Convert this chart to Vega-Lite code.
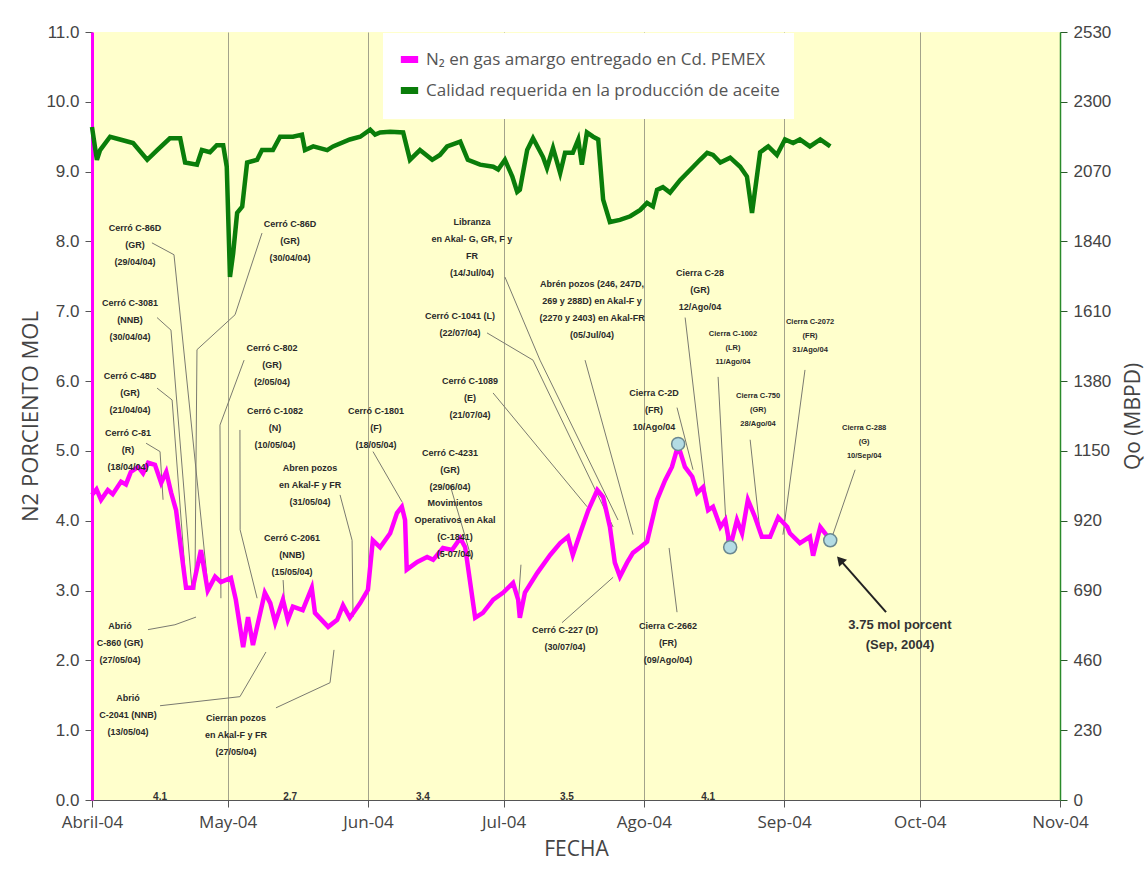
{
  "$schema": "https://vega.github.io/schema/vega-lite/v6.json",
  "width": 968,
  "height": 768,
  "autosize": {"type": "none"},
  "padding": {"left": 92, "top": 32, "right": 86, "bottom": 77},
  "background": "white",
  "config": {
    "view": {"fill": "#ffffcc", "stroke": null},
    "font": "Liberation Sans",
    "axis": {"gridColor": "#8c8c78", "gridWidth": 0.8, "gridOpacity": 1}
  },
  "datasets": {
    "n2": [
      {"f": "2004-04-01T00:00", "v": 4.37}, {"f": "2004-04-02T00:00", "v": 4.45}, {"f": "2004-04-03T00:00", "v": 4.30},
      {"f": "2004-04-04T12:00", "v": 4.44}, {"f": "2004-04-05T14:00", "v": 4.38}, {"f": "2004-04-07T10:00", "v": 4.56},
      {"f": "2004-04-08T12:00", "v": 4.52}, {"f": "2004-04-09T14:00", "v": 4.70}, {"f": "2004-04-11T05:00", "v": 4.77},
      {"f": "2004-04-12T07:00", "v": 4.68}, {"f": "2004-04-13T10:00", "v": 4.83}, {"f": "2004-04-14T22:00", "v": 4.80},
      {"f": "2004-04-16T07:00", "v": 4.54}, {"f": "2004-04-17T10:00", "v": 4.70}, {"f": "2004-04-18T12:00", "v": 4.40},
      {"f": "2004-04-19T14:00", "v": 4.15}, {"f": "2004-04-20T17:00", "v": 3.58}, {"f": "2004-04-21T19:00", "v": 3.04},
      {"f": "2004-04-23T07:00", "v": 3.04}, {"f": "2004-04-25T02:00", "v": 3.58}, {"f": "2004-04-26T14:00", "v": 3.00},
      {"f": "2004-04-28T05:00", "v": 3.20}, {"f": "2004-04-29T12:00", "v": 3.12}, {"f": "2004-05-01T17:00", "v": 3.18},
      {"f": "2004-05-02T19:00", "v": 2.87}, {"f": "2004-05-04T10:00", "v": 2.19}, {"f": "2004-05-05T12:00", "v": 2.62},
      {"f": "2004-05-06T14:00", "v": 2.22}, {"f": "2004-05-09T05:00", "v": 2.97}, {"f": "2004-05-10T10:00", "v": 2.82},
      {"f": "2004-05-11T12:00", "v": 2.54}, {"f": "2004-05-13T05:00", "v": 2.87}, {"f": "2004-05-14T07:00", "v": 2.58},
      {"f": "2004-05-15T10:00", "v": 2.77}, {"f": "2004-05-17T14:00", "v": 2.72}, {"f": "2004-05-19T14:00", "v": 3.04},
      {"f": "2004-05-20T07:00", "v": 2.68}, {"f": "2004-05-23T05:00", "v": 2.48}, {"f": "2004-05-25T05:00", "v": 2.58},
      {"f": "2004-05-26T12:00", "v": 2.79}, {"f": "2004-05-28T00:00", "v": 2.61}, {"f": "2004-05-30T07:00", "v": 2.82},
      {"f": "2004-06-01T00:00", "v": 3.01}, {"f": "2004-06-02T02:00", "v": 3.72}, {"f": "2004-06-03T17:00", "v": 3.62},
      {"f": "2004-06-05T22:00", "v": 3.82}, {"f": "2004-06-07T10:00", "v": 4.11}, {"f": "2004-06-08T12:00", "v": 4.20},
      {"f": "2004-06-09T05:00", "v": 4.01}, {"f": "2004-06-09T14:00", "v": 3.30}, {"f": "2004-06-11T22:00", "v": 3.41},
      {"f": "2004-06-14T02:00", "v": 3.48}, {"f": "2004-06-15T10:00", "v": 3.44}, {"f": "2004-06-17T14:00", "v": 3.61},
      {"f": "2004-06-19T14:00", "v": 3.58}, {"f": "2004-06-21T10:00", "v": 3.75}, {"f": "2004-06-22T12:00", "v": 3.62},
      {"f": "2004-06-24T17:00", "v": 2.61}, {"f": "2004-06-26T10:00", "v": 2.68}, {"f": "2004-06-28T17:00", "v": 2.87},
      {"f": "2004-06-30T22:00", "v": 2.97}, {"f": "2004-07-03T02:00", "v": 3.11}, {"f": "2004-07-04T05:00", "v": 2.87},
      {"f": "2004-07-04T14:00", "v": 2.61}, {"f": "2004-07-05T17:00", "v": 2.97}, {"f": "2004-07-08T10:00", "v": 3.25},
      {"f": "2004-07-11T07:00", "v": 3.51}, {"f": "2004-07-13T12:00", "v": 3.68}, {"f": "2004-07-15T05:00", "v": 3.77},
      {"f": "2004-07-16T07:00", "v": 3.51}, {"f": "2004-07-17T22:00", "v": 3.82}, {"f": "2004-07-19T17:00", "v": 4.15},
      {"f": "2004-07-21T17:00", "v": 4.44}, {"f": "2004-07-23T00:00", "v": 4.34}, {"f": "2004-07-24T12:00", "v": 3.91},
      {"f": "2004-07-25T14:00", "v": 3.40}, {"f": "2004-07-26T17:00", "v": 3.20}, {"f": "2004-07-28T07:00", "v": 3.40},
      {"f": "2004-07-29T14:00", "v": 3.54}, {"f": "2004-07-31T05:00", "v": 3.62}, {"f": "2004-08-01T17:00", "v": 3.70},
      {"f": "2004-08-03T22:00", "v": 4.30}, {"f": "2004-08-05T17:00", "v": 4.58}, {"f": "2004-08-07T05:00", "v": 4.77},
      {"f": "2004-08-08T14:00", "v": 5.08}, {"f": "2004-08-10T02:00", "v": 4.77}, {"f": "2004-08-11T17:00", "v": 4.63},
      {"f": "2004-08-12T19:00", "v": 4.40}, {"f": "2004-08-14T02:00", "v": 4.48}, {"f": "2004-08-15T05:00", "v": 4.15},
      {"f": "2004-08-16T07:00", "v": 4.20}, {"f": "2004-08-17T22:00", "v": 3.91}, {"f": "2004-08-19T00:00", "v": 4.01},
      {"f": "2004-08-20T02:00", "v": 3.62}, {"f": "2004-08-21T14:00", "v": 4.01}, {"f": "2004-08-22T17:00", "v": 3.82},
      {"f": "2004-08-24T00:00", "v": 4.30}, {"f": "2004-08-25T14:00", "v": 4.05}, {"f": "2004-08-27T02:00", "v": 3.77},
      {"f": "2004-08-28T22:00", "v": 3.77}, {"f": "2004-08-30T17:00", "v": 4.05}, {"f": "2004-09-01T17:00", "v": 3.91},
      {"f": "2004-09-02T07:00", "v": 3.82}, {"f": "2004-09-04T12:00", "v": 3.68}, {"f": "2004-09-06T17:00", "v": 3.77},
      {"f": "2004-09-07T10:00", "v": 3.50}, {"f": "2004-09-09T00:00", "v": 3.91}, {"f": "2004-09-10T02:00", "v": 3.82},
      {"f": "2004-09-11T05:00", "v": 3.72}
    ],
    "qo": [
      {"f": "2004-04-01T00:00", "q": 2217}, {"f": "2004-04-02T02:00", "q": 2109}, {"f": "2004-04-02T19:00", "q": 2141},
      {"f": "2004-04-05T00:00", "q": 2185}, {"f": "2004-04-07T05:00", "q": 2176}, {"f": "2004-04-10T02:00", "q": 2164},
      {"f": "2004-04-13T05:00", "q": 2109}, {"f": "2004-04-15T10:00", "q": 2141}, {"f": "2004-04-18T05:00", "q": 2180},
      {"f": "2004-04-20T12:00", "q": 2180}, {"f": "2004-04-21T14:00", "q": 2100}, {"f": "2004-04-24T05:00", "q": 2093},
      {"f": "2004-04-25T07:00", "q": 2141}, {"f": "2004-04-27T02:00", "q": 2134}, {"f": "2004-04-28T14:00", "q": 2157},
      {"f": "2004-04-30T00:00", "q": 2157}, {"f": "2004-04-30T19:00", "q": 2086}, {"f": "2004-05-01T12:00", "q": 1723},
      {"f": "2004-05-02T05:00", "q": 1801}, {"f": "2004-05-03T02:00", "q": 1934}, {"f": "2004-05-04T05:00", "q": 1955},
      {"f": "2004-05-05T07:00", "q": 2100}, {"f": "2004-05-07T12:00", "q": 2109}, {"f": "2004-05-08T14:00", "q": 2141},
      {"f": "2004-05-11T00:00", "q": 2141}, {"f": "2004-05-12T14:00", "q": 2185}, {"f": "2004-05-15T10:00", "q": 2185},
      {"f": "2004-05-17T10:00", "q": 2192}, {"f": "2004-05-18T02:00", "q": 2141}, {"f": "2004-05-19T22:00", "q": 2153},
      {"f": "2004-05-23T00:00", "q": 2141}, {"f": "2004-05-24T07:00", "q": 2153}, {"f": "2004-05-28T00:00", "q": 2176},
      {"f": "2004-05-30T07:00", "q": 2185}, {"f": "2004-06-01T12:00", "q": 2208}, {"f": "2004-06-02T14:00", "q": 2192},
      {"f": "2004-06-03T17:00", "q": 2199}, {"f": "2004-06-05T22:00", "q": 2201}, {"f": "2004-06-08T19:00", "q": 2199},
      {"f": "2004-06-10T07:00", "q": 2109}, {"f": "2004-06-12T12:00", "q": 2141}, {"f": "2004-06-15T05:00", "q": 2109},
      {"f": "2004-06-16T22:00", "q": 2125}, {"f": "2004-06-18T12:00", "q": 2153}, {"f": "2004-06-21T10:00", "q": 2169},
      {"f": "2004-06-23T02:00", "q": 2109}, {"f": "2004-06-25T19:00", "q": 2093}, {"f": "2004-06-28T17:00", "q": 2086},
      {"f": "2004-06-29T19:00", "q": 2077}, {"f": "2004-07-01T07:00", "q": 2109}, {"f": "2004-07-02T22:00", "q": 2054},
      {"f": "2004-07-04T00:00", "q": 2003}, {"f": "2004-07-04T14:00", "q": 2010}, {"f": "2004-07-06T05:00", "q": 2141},
      {"f": "2004-07-07T12:00", "q": 2180}, {"f": "2004-07-09T17:00", "q": 2118}, {"f": "2004-07-10T14:00", "q": 2082},
      {"f": "2004-07-11T22:00", "q": 2148}, {"f": "2004-07-13T12:00", "q": 2065}, {"f": "2004-07-14T14:00", "q": 2132},
      {"f": "2004-07-16T07:00", "q": 2132}, {"f": "2004-07-17T12:00", "q": 2176}, {"f": "2004-07-18T07:00", "q": 2093},
      {"f": "2004-07-19T10:00", "q": 2199}, {"f": "2004-07-20T19:00", "q": 2185}, {"f": "2004-07-21T22:00", "q": 2176},
      {"f": "2004-07-23T00:00", "q": 1978}, {"f": "2004-07-24T12:00", "q": 1904}, {"f": "2004-07-26T17:00", "q": 1911},
      {"f": "2004-07-29T00:00", "q": 1923}, {"f": "2004-07-31T05:00", "q": 1944}, {"f": "2004-08-01T17:00", "q": 1967},
      {"f": "2004-08-03T00:00", "q": 1955}, {"f": "2004-08-03T22:00", "q": 2010}, {"f": "2004-08-05T05:00", "q": 2019},
      {"f": "2004-08-06T19:00", "q": 2001}, {"f": "2004-08-09T00:00", "q": 2042}, {"f": "2004-08-11T22:00", "q": 2086},
      {"f": "2004-08-13T10:00", "q": 2109}, {"f": "2004-08-15T00:00", "q": 2132}, {"f": "2004-08-16T07:00", "q": 2125},
      {"f": "2004-08-17T22:00", "q": 2100}, {"f": "2004-08-20T02:00", "q": 2116}, {"f": "2004-08-22T07:00", "q": 2086},
      {"f": "2004-08-23T19:00", "q": 2054}, {"f": "2004-08-24T22:00", "q": 1934}, {"f": "2004-08-26T17:00", "q": 2134},
      {"f": "2004-08-28T12:00", "q": 2153}, {"f": "2004-08-30T10:00", "q": 2125}, {"f": "2004-09-01T05:00", "q": 2176},
      {"f": "2004-09-03T00:00", "q": 2164}, {"f": "2004-09-04T12:00", "q": 2176}, {"f": "2004-09-06T17:00", "q": 2153},
      {"f": "2004-09-09T00:00", "q": 2176}, {"f": "2004-09-11T05:00", "q": 2153}
    ],
    "circ": [
      {"f": "2004-08-08T14:00", "v": 5.1}, {"f": "2004-08-20T02:00", "v": 3.62}, {"f": "2004-09-11T05:00", "v": 3.72}
    ],
    "notas": [
      {"f": "2004-04-10T12:00", "v": 8.25, "t": "Cerró C-86D\n(GR)\n(29/04/04)"},
      {"f": "2004-05-14T19:00", "v": 8.31, "t": "Cerró C-86D\n(GR)\n(30/04/04)"},
      {"f": "2004-04-09T10:00", "v": 7.18, "t": "Cerró C-3081\n(NNB)\n(30/04/04)"},
      {"f": "2004-04-09T10:00", "v": 6.13, "t": "Cerró C-48D\n(GR)\n(21/04/04)"},
      {"f": "2004-04-08T23:00", "v": 5.32, "t": "Cerró C-81\n(R)\n(18/04/04)"},
      {"f": "2004-05-10T19:00", "v": 6.53, "t": "Cerró C-802\n(GR)\n(2/05/04)"},
      {"f": "2004-05-11T11:00", "v": 5.63, "t": "Cerró C-1082\n(N)\n(10/05/04)"},
      {"f": "2004-06-02T19:00", "v": 5.63, "t": "Cerró C-1801\n(F)\n(18/05/04)"},
      {"f": "2004-05-19T05:00", "v": 4.81, "t": "Abren pozos\nen Akal-F y FR\n(31/05/04)"},
      {"f": "2004-05-15T05:00", "v": 3.81, "t": "Cerró C-2061\n(NNB)\n(15/05/04)"},
      {"f": "2004-04-07T05:00", "v": 2.55, "t": "Abrió\nC-860 (GR)\n(27/05/04)"},
      {"f": "2004-04-08T23:00", "v": 1.52, "t": "Abrió\nC-2041 (NNB)\n(13/05/04)"},
      {"f": "2004-05-02T20:00", "v": 1.23, "t": "Cierran pozos\nen Akal-F y FR\n(27/05/04)"},
      {"f": "2004-06-24T00:00", "v": 8.34, "t": "Libranza\nen Akal- G, GR, F y\nFR\n(14/Jul/04)"},
      {"f": "2004-07-20T13:00", "v": 7.45, "t": "Abrén pozos (246, 247D,\n269 y 288D) en Akal-F y\n(2270 y 2403) en Akal-FR\n(05/Jul/04)"},
      {"f": "2004-06-21T09:00", "v": 6.99, "t": "Cerró C-1041 (L)\n(22/07/04)"},
      {"f": "2004-06-23T14:00", "v": 6.06, "t": "Cerró C-1089\n(E)\n(21/07/04)"},
      {"f": "2004-06-19T04:00", "v": 5.03, "t": "Cerró C-4231\n(GR)\n(29/06/04)"},
      {"f": "2004-06-20T06:00", "v": 4.31, "t": "Movimientos\nOperativos en Akal\n(C-1841)\n(5-07/04)"},
      {"f": "2004-07-14T14:00", "v": 2.49, "t": "Cerró C-227 (D)\n(30/07/04)"},
      {"f": "2004-08-06T08:00", "v": 2.55, "t": "Cierra C-2662\n(FR)\n(09/Ago/04)"},
      {"f": "2004-08-03T06:00", "v": 5.89, "t": "Cierra C-2D\n(FR)\n10/Ago/04"},
      {"f": "2004-08-13T10:00", "v": 7.61, "t": "Cierra C-28\n(GR)\n12/Ago/04"}
    ],
    "notas2": [
      {"f": "2004-08-20T17:00", "v": 6.73, "t": "Cierra C-1002\n(LR)\n11/Ago/04"},
      {"f": "2004-08-26T06:00", "v": 5.85, "t": "Cierra C-750\n(GR)\n28/Ago/04"},
      {"f": "2004-09-06T18:00", "v": 6.91, "t": "Cierra C-2072\n(FR)\n31/Ago/04"},
      {"f": "2004-09-18T17:00", "v": 5.39, "t": "Cierra C-288\n(G)\n10/Sep/04"}
    ],
    "nota3": [
      {"f": "2004-09-26T15:00", "v": 2.59, "t": "3.75 mol porcent\n(Sep, 2004)"}
    ],
    "prom": [
      {"f": "2004-04-16T01:00", "v": 0.05, "t": "4.1"},
      {"f": "2004-05-14T19:00", "v": 0.05, "t": "2.7"},
      {"f": "2004-06-13T04:00", "v": 0.05, "t": "3.4"},
      {"f": "2004-07-15T00:00", "v": 0.05, "t": "3.5"},
      {"f": "2004-08-15T05:00", "v": 0.05, "t": "4.1"}
    ],
    "guias": [
      {"id": 1, "o": 1, "f": "2004-04-14T06:00", "v": 7.98}, {"id": 1, "o": 2, "f": "2004-04-19T03:00", "v": 7.81}, {"id": 1, "o": 3, "f": "2004-04-26T16:00", "v": 3.04},
      {"id": 2, "o": 1, "f": "2004-05-08T14:00", "v": 8.12}, {"id": 2, "o": 2, "f": "2004-05-02T15:00", "v": 6.95}, {"id": 2, "o": 3, "f": "2004-04-24T05:00", "v": 6.45}, {"id": 2, "o": 4, "f": "2004-04-23T18:00", "v": 3.01},
      {"id": 3, "o": 1, "f": "2004-04-15T09:00", "v": 6.91}, {"id": 3, "o": 2, "f": "2004-04-18T11:00", "v": 6.73}, {"id": 3, "o": 3, "f": "2004-04-23T03:00", "v": 3.01},
      {"id": 4, "o": 1, "f": "2004-04-15T09:00", "v": 5.90}, {"id": 4, "o": 2, "f": "2004-04-18T17:00", "v": 5.73}, {"id": 4, "o": 3, "f": "2004-04-21T19:00", "v": 3.08},
      {"id": 5, "o": 1, "f": "2004-04-12T23:00", "v": 5.11}, {"id": 5, "o": 2, "f": "2004-04-16T01:00", "v": 4.99}, {"id": 5, "o": 3, "f": "2004-04-16T17:00", "v": 4.30},
      {"id": 6, "o": 1, "f": "2004-05-04T15:00", "v": 6.30}, {"id": 6, "o": 2, "f": "2004-04-29T07:00", "v": 5.37}, {"id": 6, "o": 3, "f": "2004-04-29T12:00", "v": 2.89},
      {"id": 7, "o": 1, "f": "2004-05-03T17:00", "v": 5.30}, {"id": 7, "o": 2, "f": "2004-05-03T18:00", "v": 3.87}, {"id": 7, "o": 3, "f": "2004-05-07T12:00", "v": 2.89},
      {"id": 8, "o": 1, "f": "2004-06-02T03:00", "v": 4.99}, {"id": 8, "o": 2, "f": "2004-06-08T13:00", "v": 4.27},
      {"id": 9, "o": 1, "f": "2004-05-25T20:00", "v": 4.37}, {"id": 9, "o": 2, "f": "2004-05-28T12:00", "v": 3.72}, {"id": 9, "o": 3, "f": "2004-05-28T17:00", "v": 2.62},
      {"id": 10, "o": 1, "f": "2004-05-13T06:00", "v": 3.15}, {"id": 10, "o": 2, "f": "2004-05-13T16:00", "v": 2.69},
      {"id": 11, "o": 1, "f": "2004-04-13T09:00", "v": 2.44}, {"id": 11, "o": 2, "f": "2004-04-19T08:00", "v": 2.51}, {"id": 11, "o": 3, "f": "2004-04-24T00:00", "v": 2.62},
      {"id": 12, "o": 1, "f": "2004-04-16T01:00", "v": 1.35}, {"id": 12, "o": 2, "f": "2004-05-03T17:00", "v": 1.48}, {"id": 12, "o": 3, "f": "2004-05-09T11:00", "v": 2.12},
      {"id": 13, "o": 1, "f": "2004-05-11T16:00", "v": 1.32}, {"id": 13, "o": 2, "f": "2004-05-23T15:00", "v": 1.68}, {"id": 13, "o": 3, "f": "2004-05-24T12:00", "v": 2.15},
      {"id": 14, "o": 1, "f": "2004-07-01T07:00", "v": 7.49}, {"id": 14, "o": 2, "f": "2004-07-09T01:00", "v": 6.30}, {"id": 14, "o": 3, "f": "2004-07-26T07:00", "v": 4.01},
      {"id": 15, "o": 1, "f": "2004-07-19T00:00", "v": 6.30}, {"id": 15, "o": 2, "f": "2004-07-29T15:00", "v": 3.80},
      {"id": 16, "o": 1, "f": "2004-06-27T08:00", "v": 6.69}, {"id": 16, "o": 2, "f": "2004-07-07T12:00", "v": 6.30}, {"id": 16, "o": 3, "f": "2004-07-25T05:00", "v": 3.91},
      {"id": 17, "o": 1, "f": "2004-06-28T16:00", "v": 5.83}, {"id": 17, "o": 2, "f": "2004-07-19T11:00", "v": 4.20},
      {"id": 18, "o": 1, "f": "2004-06-19T04:00", "v": 4.51}, {"id": 18, "o": 2, "f": "2004-06-24T00:00", "v": 3.44},
      {"id": 19, "o": 1, "f": "2004-07-04T20:00", "v": 3.37}, {"id": 19, "o": 2, "f": "2004-07-04T05:00", "v": 2.79},
      {"id": 20, "o": 1, "f": "2004-07-13T22:00", "v": 2.54}, {"id": 20, "o": 2, "f": "2004-07-25T05:00", "v": 3.19},
      {"id": 21, "o": 1, "f": "2004-08-06T14:00", "v": 3.61}, {"id": 21, "o": 2, "f": "2004-08-08T08:00", "v": 2.69},
      {"id": 22, "o": 1, "f": "2004-08-08T08:00", "v": 5.62}, {"id": 22, "o": 2, "f": "2004-08-11T21:00", "v": 4.73},
      {"id": 23, "o": 1, "f": "2004-08-10T03:00", "v": 6.91}, {"id": 23, "o": 2, "f": "2004-08-14T23:00", "v": 4.23},
      {"id": 24, "o": 1, "f": "2004-08-17T10:00", "v": 6.06}, {"id": 24, "o": 2, "f": "2004-08-19T09:00", "v": 3.68},
      {"id": 25, "o": 1, "f": "2004-08-24T12:00", "v": 5.16}, {"id": 25, "o": 2, "f": "2004-08-26T17:00", "v": 3.83},
      {"id": 26, "o": 1, "f": "2004-09-05T15:00", "v": 6.16}, {"id": 26, "o": 2, "f": "2004-08-31T18:00", "v": 3.80},
      {"id": 27, "o": 1, "f": "2004-09-16T17:00", "v": 4.73}, {"id": 27, "o": 2, "f": "2004-09-11T15:00", "v": 3.77}
    ],
    "flecha": [
      {"o": 1, "f": "2004-09-23T13:00", "v": 2.69},
      {"o": 2, "f": "2004-09-13T09:00", "v": 3.44}
    ],
    "punta": [
      {"f": "2004-09-13T09:00", "v": 3.44}
    ]
  },
  "layer": [
    {
      "layer": [
        {"mark": {"type": "rule", "stroke": "#4a4ab8", "strokeWidth": 1.5}, "encoding": {"y": {"datum": 5, "type": "quantitative", "scale": {"domain": [0, 11]}, "axis": null}}},
        {"mark": {"type": "rule", "stroke": "#1c1ca0", "strokeWidth": 3, "strokeDash": [6, 5]}, "encoding": {"y": {"datum": 2, "type": "quantitative", "scale": {"domain": [0, 11]}, "axis": null}}}
      ]
    },
    {
      "encoding": {
        "x": {
          "field": "f", "type": "temporal", "title": "FECHA",
          "scale": {"domain": [{"year": 2004, "month": 4, "date": 1}, {"year": 2004, "month": 11, "date": 1}]},
          "axis": {
            "tickCount": {"interval": "month", "step": 1},
            "labelExpr": "['Ene','Feb','Mar','Abril','May','Jun','Jul','Ago','Sep','Oct','Nov','Dic'][month(datum.value)] + '-' + timeFormat(datum.value, '%y')",
            "labelFont": "Open Sans", "labelFontSize": 17, "labelColor": "#444",
            "labelFlush": false, "labelOverlap": false, "labelBound": false, "labelPadding": 7,
            "domainColor": "#555", "tickColor": "#555", "tickSize": 7,
            "titleFont": "Open Sans", "titleFontSize": 21, "titleColor": "#444", "titleFontWeight": "normal", "titlePadding": 8
          }
        },
        "y": {
          "field": "v", "type": "quantitative", "title": "N2  PORCIENTO MOL",
          "scale": {"domain": [0, 11]},
          "axis": {
            "values": [0, 1, 2, 3, 4, 5, 6, 7, 8, 9, 10, 11], "format": ".1f",
            "labelFont": "Liberation Sans", "labelFontSize": 17, "labelColor": "#444", "labelPadding": 6,
            "domainColor": "#ff00ff", "domainWidth": 3, "tickColor": "#555", "tickSize": 7,
            "titleFont": "Open Sans", "titleFontSize": 22, "titleColor": "#444", "titleFontWeight": "normal", "titlePadding": 3
          }
        }
      },
      "layer": [
        {"data": {"name": "guias"}, "mark": {"type": "line", "stroke": "#7a7a70", "strokeWidth": 1}, "encoding": {"detail": {"field": "id"}, "order": {"field": "o"}}},
        {
          "data": {"name": "n2"},
          "mark": {"type": "line", "strokeWidth": 4.5},
          "encoding": {
            "color": {
              "datum": "N₂ en gas amargo entregado en Cd. PEMEX",
              "scale": {"domain": ["N₂ en gas amargo entregado en Cd. PEMEX", "Calidad requerida en la producción de aceite"], "range": ["#ff00ff", "#0a7d0a"]},
              "legend": {
                "orient": "none", "legendX": 291, "legendY": 1, "title": null,
                "fillColor": "white", "padding": 14,
                "labelFont": "Open Sans", "labelFontSize": 17, "labelColor": "#555", "labelOffset": 4, "labelLimit": 500,
                "symbolType": "stroke", "symbolStrokeWidth": 7, "symbolSize": 300, "rowPadding": 2
              }
            }
          }
        },
        {"data": {"name": "circ"}, "mark": {"type": "point", "shape": "circle", "filled": true, "size": 170, "fill": "#b3dce4", "stroke": "#6a8890", "strokeWidth": 1.5, "opacity": 1}},
        {"data": {"name": "notas"}, "mark": {"type": "text", "lineBreak": "\n", "baseline": "top", "align": "center", "fontSize": 9, "fontWeight": "bold", "lineHeight": 17, "fill": "#2a2a2a"}, "encoding": {"text": {"field": "t"}}},
        {"data": {"name": "notas2"}, "mark": {"type": "text", "lineBreak": "\n", "baseline": "top", "align": "center", "fontSize": 7.5, "fontWeight": "bold", "lineHeight": 14, "fill": "#2a2a2a"}, "encoding": {"text": {"field": "t"}}},
        {"data": {"name": "nota3"}, "mark": {"type": "text", "lineBreak": "\n", "baseline": "top", "align": "center", "fontSize": 13, "fontWeight": "bold", "lineHeight": 20, "fill": "#333"}, "encoding": {"text": {"field": "t"}}},
        {"data": {"name": "prom"}, "mark": {"type": "text", "baseline": "middle", "align": "center", "fontSize": 10, "fontWeight": "bold", "fill": "#333"}, "encoding": {"text": {"field": "t"}}},
        {"data": {"name": "flecha"}, "mark": {"type": "line", "stroke": "#222", "strokeWidth": 2}, "encoding": {"order": {"field": "o"}}},
        {"data": {"name": "punta"}, "mark": {"type": "point", "shape": "triangle-up", "filled": true, "size": 110, "fill": "#222", "angle": 318.5, "opacity": 1}}
      ]
    },
    {
      "data": {"name": "qo"},
      "mark": {"type": "line", "strokeWidth": 4.5},
      "encoding": {
        "x": {"field": "f", "type": "temporal", "title": "FECHA"},
        "y": {
          "field": "q", "type": "quantitative", "title": "Qo (MBPD)",
          "scale": {"domain": [0, 2530]},
          "axis": {
            "orient": "right", "grid": false,
            "values": [0, 230, 460, 690, 920, 1150, 1380, 1610, 1840, 2070, 2300, 2530], "format": "d",
            "labelFont": "Liberation Sans", "labelFontSize": 17, "labelColor": "#444", "labelPadding": 6,
            "domainColor": "#2a8a2a", "domainWidth": 1.5, "tickColor": "#2a5a2a", "tickSize": 7,
            "titleFont": "Open Sans", "titleFontSize": 21, "titleColor": "#444", "titleFontWeight": "normal",
            "titleAngle": 270, "titleBaseline": "top", "titlePadding": 12
          }
        },
        "color": {"datum": "Calidad requerida en la producción de aceite"}
      }
    }
  ],
  "resolve": {"scale": {"y": "independent"}, "axis": {"y": "independent"}}
}
